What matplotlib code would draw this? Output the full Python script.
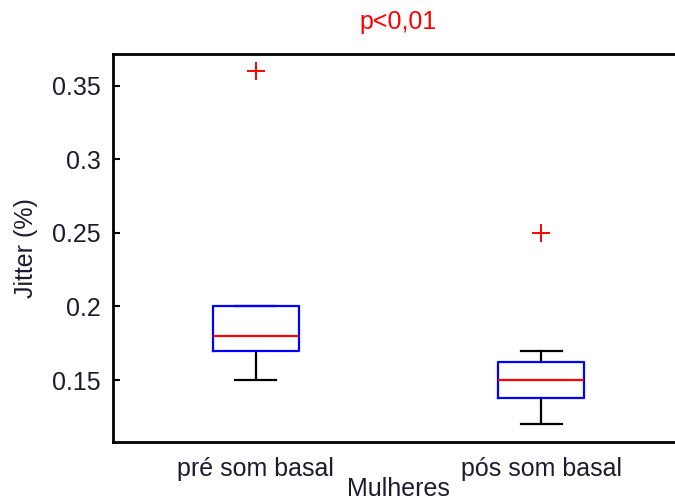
import matplotlib
matplotlib.use("Agg")
import matplotlib.pyplot as plt

# Box statistics for each group
groups = ["pré som basal", "pós som basal"]
whislo = [0.15, 0.12]
q1 = [0.17, 0.1378]
medians = [0.18, 0.15]
q3 = [0.20, 0.162]
whishi = [0.20, 0.17]
fliers = [[0.36], [0.25]]
yticks = [0.15, 0.2, 0.25, 0.3, 0.35]

plt.rcParams["font.family"] = ["Liberation Sans", "DejaVu Sans"]
text_color = "#1c1c30"

fig = plt.figure(figsize=(6.75, 5.03), dpi=100)
ax = fig.add_axes([113 / 675, 1 - 442 / 503, (684 - 113) / 675, (442 - 54) / 503])

stats = [
    dict(label=g, whislo=lo, q1=a, med=m, q3=b, whishi=hi, fliers=f)
    for g, lo, a, m, b, hi, f in zip(groups, whislo, q1, medians, q3, whishi, fliers)
]

ax.bxp(
    stats,
    positions=[1, 2],
    widths=0.3,
    capwidths=0.145,
    showfliers=True,
    boxprops=dict(color="#0000ff", linewidth=1.6, zorder=3),
    medianprops=dict(color="#ff0000", linewidth=1.6, zorder=4),
    whiskerprops=dict(color="black", linewidth=1.6, linestyle="-", zorder=2),
    capprops=dict(color="black", linewidth=1.6, zorder=2),
    flierprops=dict(marker="+", markeredgecolor="#ff0000", markersize=13, markeredgewidth=1.4),
)

ax.set_xlim(0.5, 2.5)
ax.set_ylim(0.1079, 0.3716)
ax.set_yticks(yticks)
ax.set_yticklabels([f"{t:g}" for t in yticks])
ax.set_xticks([1, 2])
ax.set_xticklabels(groups)

ax.tick_params(axis="y", direction="in", length=5, width=1.5, pad=9,
               labelsize=18, labelcolor=text_color, right=False)
ax.tick_params(axis="x", length=0, pad=11, labelsize=18, labelcolor=text_color, top=False)

for s in ax.spines.values():
    s.set_linewidth(2)
    s.set_color("black")

ax.set_ylabel("Jitter (%)", fontsize=18, color=text_color, labelpad=10)
ax.set_xlabel("Mulheres", fontsize=18, color=text_color, labelpad=-3)
ax.set_title("p<0,01", fontsize=18, color="#ff0000", pad=18)

fig.savefig("out.png", dpi=100)
